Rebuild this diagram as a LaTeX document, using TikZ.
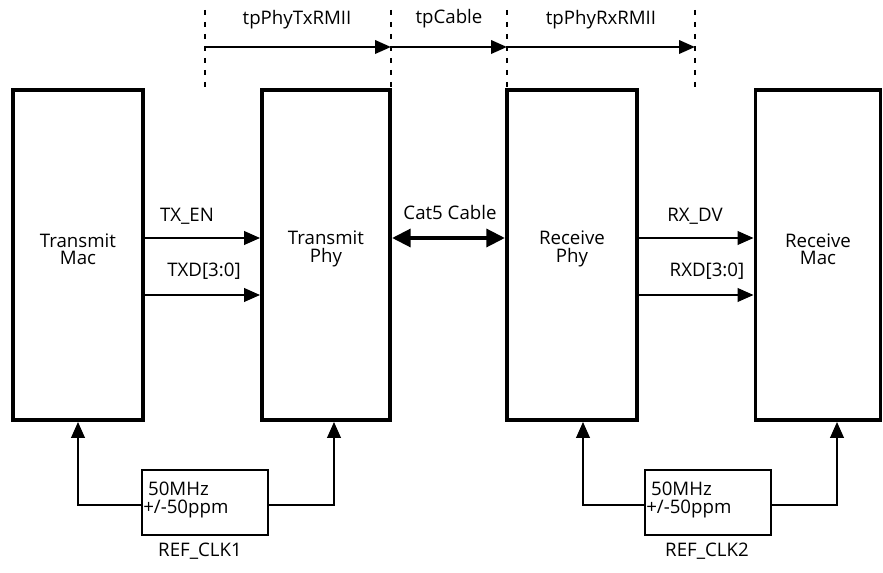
\documentclass[tikz,border=0pt]{standalone}
\usepackage{fontspec}
\setmainfont{Open Sans}
\usetikzlibrary{arrows.meta}
\begin{document}
\begin{tikzpicture}[x=0.75pt,y=-0.75pt,
  blk/.style={draw,line width=2.8pt,minimum width=0pt,inner sep=0pt},
  sig/.style={line width=2pt,-{Triangle[length=12pt,width=10pt]}},
  dots/.style={line width=1.8pt,dash pattern=on 4pt off 5pt},
  lbl/.style={font=\fontsize{14}{13}\selectfont,inner sep=0pt},
  clk/.style={draw,line width=2pt,inner sep=0pt}]
\useasboundingbox (0,0) rectangle (883,573);
% boxes
\node[blk,minimum width=130*0.75pt,minimum height=330*0.75pt] (tmac) at (78,255) {};
\node[blk,minimum width=128*0.75pt,minimum height=330*0.75pt] (tphy) at (326,255) {};
\node[blk,minimum width=130*0.75pt,minimum height=330*0.75pt] (rphy) at (572,255) {};
\node[blk,minimum width=125*0.75pt,minimum height=330*0.75pt] (rmac) at (818,255) {};
\node[lbl,align=center] (tmacl) at (tmac.center |- 0,249) {Transmit\\Mac};
\node[lbl,align=center] (tphyl) at (tphy.center |- 0,249) {Transmit\\Phy};
\node[lbl,align=center] (rphyl) at (rphy.center |- 0,249) {Receive\\Phy};
\node[lbl,align=center] (rmacl) at (rmac.center |- 0,249) {Receive\\Mac};
% timing lines
\coordinate (d1t) at (205,10); \coordinate (d1b) at (205,90);
\coordinate (d2t) at (391,10); \coordinate (d2b) at (391,90);
\coordinate (d3t) at (507,10); \coordinate (d3b) at (507,90);
\coordinate (d4t) at (695,10); \coordinate (d4b) at (695,90);
\draw[dots] (d1t) -- (d1b);
\draw[dots] (d2t) -- (d2b);
\draw[dots] (d3t) -- (d3b);
\draw[dots] (d4t) -- (d4b);
\coordinate (a1) at (205,47); \coordinate (a2) at (391,47);
\coordinate (a3) at (507,47); \coordinate (a4) at (695,47);
\draw[sig] (a1) -- (a2);
\draw[sig] (a2) -- (a3);
\draw[sig] (a3) -- (a4);
\node[lbl] (t1) at (297,20) {tpPhyTxRMII};
\node[lbl] (t2) at (449,19) {tpCable};
\node[lbl] (t3) at (601,20) {tpPhyRxRMII};
% signals
\draw[sig] (tmac.east |- 0,238) -- (tphy.west |- 0,238);
\draw[sig] (tmac.east |- 0,295) -- (tphy.west |- 0,295);
\node[lbl] (ten) at (187,216) {TX\_EN};
\node[lbl] (txd) at (204,271) {TXD[3:0]};
\draw[line width=3.5pt,{Triangle[length=14pt,width=13pt]}-{Triangle[length=14pt,width=13pt]}] (tphy.east |- 0,238) -- (rphy.west |- 0,238);
\node[lbl] (cat) at (450,213) {Cat5 Cable};
\draw[sig] (rphy.east |- 0,238) -- (rmac.west |- 0,238);
\draw[sig] (rphy.east |- 0,295) -- (rmac.west |- 0,295);
\node[lbl] (rdv) at (695,216) {RX\_DV};
\node[lbl] (rxd) at (707,271) {RXD[3:0]};
% clocks
\node[clk,minimum width=126*0.75pt,minimum height=65*0.75pt] (c1) at (205,502.5) {};
\node[lbl,align=left,anchor=west] (c1t) at (143,500) {\ 50MHz\\+/-50ppm};
\node[clk,minimum width=126*0.75pt,minimum height=65*0.75pt] (c2) at (708,502.5) {};
\node[lbl,align=left,anchor=west] (c2t) at (646,500) {\ 50MHz\\+/-50ppm};
\node[lbl] (r1) at (200,551) {REF\_CLK1};
\node[lbl] (r2) at (707,551) {REF\_CLK2};
\draw[sig] (c1.west |- 0,505) -| (tmac.south -| 78,0);
\draw[sig] (c1.east |- 0,505) -| (tphy.south -| 334,0);
\draw[sig] (c2.west |- 0,505) -| (rphy.south -| 583,0);
\draw[sig] (c2.east |- 0,505) -| (rmac.south -| 837,0);
\end{tikzpicture}
\end{document}
